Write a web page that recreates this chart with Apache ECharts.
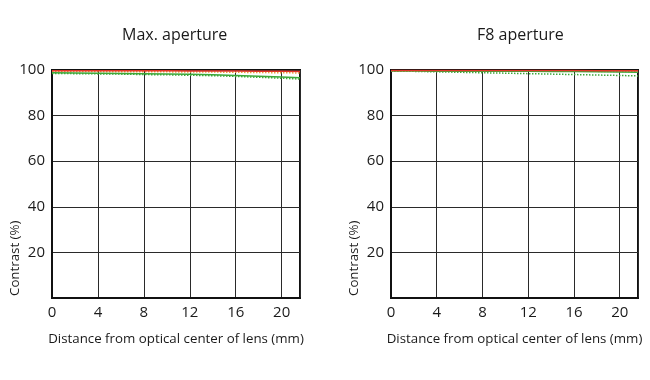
<!DOCTYPE html>
<html><head><meta charset="utf-8">
<script src="https://cdn.jsdelivr.net/npm/echarts@6/dist/echarts.min.js"></script>
<style>html,body{margin:0;padding:0;background:#fff}#c{width:650px;height:380px}</style>
</head><body><div id="c"></div>
<script>
const positions = [0, 2, 4, 6, 8, 10, 12, 14, 16, 18, 20, 21.6];
const titles = ['Max. aperture', 'F8 aperture'];
const xTicks = [0, 4, 8, 12, 16, 20];
const yTicks = [20, 40, 60, 80, 100];
// Max aperture
const maxRedSolid   = [99.7, 99.7, 99.7, 99.7, 99.7, 99.7, 99.6, 99.6, 99.6, 99.5, 99.4, 99.3];
const maxOrangeDot  = [99.3, 99.3, 99.3, 99.2, 99.2, 99.2, 99.1, 99.1, 99.0, 98.9, 98.8, 98.7];
const maxGreenSolid = [98.8, 98.7, 98.6, 98.5, 98.4, 98.3, 98.1, 97.9, 97.6, 97.3, 96.9, 96.6];
const maxGreenDot   = [98.5, 98.4, 98.3, 98.2, 98.0, 97.9, 97.7, 97.5, 97.2, 96.8, 96.4, 96.0];
// F8 aperture
const f8RedSolid    = [99.8, 99.8, 99.8, 99.8, 99.8, 99.8, 99.8, 99.8, 99.8, 99.7, 99.7, 99.7];
const f8OrangeDot   = [99.6, 99.6, 99.6, 99.6, 99.5, 99.5, 99.5, 99.5, 99.4, 99.4, 99.3, 99.3];
const f8GreenSolid  = [99.6, 99.6, 99.5, 99.5, 99.5, 99.4, 99.4, 99.3, 99.3, 99.2, 99.1, 99.0];
const f8GreenDot    = [99.5, 99.4, 99.2, 99.0, 98.8, 98.6, 98.4, 98.2, 98.0, 97.8, 97.6, 97.4];

const xName = 'Distance from optical center of lens (mm)';
const yName = 'Contrast (%)';
const FONT = 'Open Sans';
const TXT = '#1a1a1a';
const RED = '#e2352b', ORANGE = '#e8a23c', GREEN = '#3da83a';

const grids = [
  {left: 52, right: 350, top: 70, bottom: 82},
  {left: 391, right: 12, top: 70, bottom: 82}
];
function xAxis(i){
  return {gridIndex:i, type:'value', min:0, max:positions[positions.length-1], interval:4,
    name:xName, nameLocation:'middle', nameGap:35,
    nameTextStyle:{fontFamily:FONT, fontSize:13.3, color:TXT},
    axisLine:{show:true, lineStyle:{color:'#111', width:2}}, axisTick:{show:false},
    axisLabel:{fontFamily:FONT, fontSize:15, color:TXT, margin:7,
      formatter:v => xTicks.includes(v) ? String(v) : ''},
    splitLine:{show:true, lineStyle:{color:'#2a2a2a', width:1}}};
}
function yAxis(i){
  return {gridIndex:i, type:'value', min:0, max:100, interval:20,
    name:yName, nameLocation:'start', nameRotate:90, nameGap:-2,
    nameTextStyle:{fontFamily:FONT, fontSize:13.3, color:TXT, align:'left', verticalAlign:'bottom', padding:[0,0,30,0]},
    axisLine:{show:true, lineStyle:{color:'#111', width:2}}, axisTick:{show:false},
    axisLabel:{fontFamily:FONT, fontSize:15, color:TXT, margin:7,
      formatter:v => yTicks.includes(v) ? String(v) : ''},
    splitLine:{show:true, lineStyle:{color:'#2a2a2a', width:1}}};
}
function s(i, data, color, dotted){
  return {type:'line', xAxisIndex:i, yAxisIndex:i, symbol:'none', silent:true,
    data: positions.map((p,k)=>[p, data[k]]),
    lineStyle:{color, width:1.5, type: dotted?[1.5,1.5]:'solid'}, z: dotted?3:4};
}
const chart = echarts.init(document.getElementById('c'), null, {renderer:'canvas'});
chart.setOption({
  animation:false,
  title: titles.map((t,i)=>({text:t, left: i===0?117:472, top:22,
    textStyle:{fontFamily:FONT, fontSize:16, fontWeight:'normal', color:TXT}})),
  grid: grids.map(g=>Object.assign({show:true, borderColor:'#111', borderWidth:2, backgroundColor:'transparent'}, g)),
  xAxis:[xAxis(0), xAxis(1)],
  yAxis:[yAxis(0), yAxis(1)],
  series:[
    s(0, maxGreenDot, GREEN, true), s(0, maxGreenSolid, GREEN, false),
    s(0, maxOrangeDot, ORANGE, true), s(0, maxRedSolid, RED, false),
    s(1, f8GreenDot, GREEN, true), s(1, f8GreenSolid, GREEN, false),
    s(1, f8OrangeDot, ORANGE, true), s(1, f8RedSolid, RED, false)
  ]
});
</script></body></html>
